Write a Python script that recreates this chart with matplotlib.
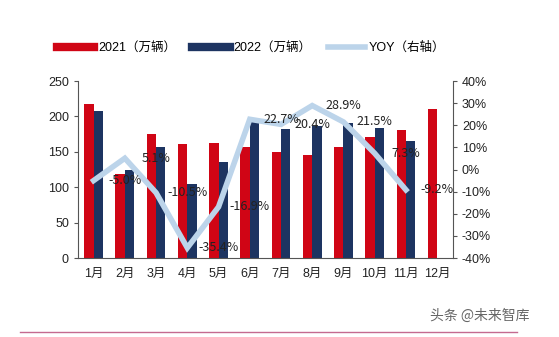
import matplotlib.pyplot as plt
import numpy as np
from matplotlib.lines import Line2D

plt.rcParams['font.family'] = ['Liberation Sans', 'Noto Sans CJK SC', 'DejaVu Sans']

months = ['1月', '2月', '3月', '4月', '5月', '6月', '7月', '8月', '9月', '10月', '11月', '12月']
sales_2021 = [218, 119, 175, 161, 162, 157, 150, 145, 157, 171, 181, 210]
sales_2022 = [207, 124, 157, 104, 135, 192, 182, 186, 191, 184, 165]
yoy = [-5.0, 5.1, -10.5, -35.4, -16.9, 22.7, 20.4, 28.9, 21.5, 7.3, -9.2]

red = '#d00515'
navy = '#1d3461'
light = '#bcd4ea'

fig = plt.figure(figsize=(5.59, 3.37), dpi=100)
ax = fig.add_axes([0.1395, 0.2344, 0.6705, 0.5252])
ax2 = ax.twinx()

x = np.arange(len(months))
w = 0.3
ax.bar(x - w / 2, sales_2021, width=w, color=red, zorder=2)
ax.bar(x[:len(sales_2022)] + w / 2, sales_2022, width=w, color=navy, zorder=2)

ax.set_ylim(0, 250)
ax.set_yticks(range(0, 251, 50))
ax.set_xlim(-0.5, 11.5)
ax.set_xticks(x)
ax.set_xticklabels(months)

# line at each month, label drawn one month to the right like the source
ax2.plot(x[:len(yoy)], yoy, color=light, lw=4, zorder=3, solid_joinstyle='miter')
ax2.set_ylim(-40, 40)
ax2.set_yticks(range(-40, 41, 10))
ax2.set_yticklabels([f'{v}%' for v in range(-40, 41, 10)])
for i, v in enumerate(yoy):
    ax2.text(i + 1, v, f'{v:.1f}%', ha='center', va='center', fontsize=9, color='#222222',
             family=['Noto Sans CJK SC', 'DejaVu Sans'], zorder=4)

for a in (ax, ax2):
    a.spines['top'].set_visible(False)
    for s in ('left', 'right', 'bottom'):
        a.spines[s].set_color('#555555')
    a.tick_params(labelsize=9, length=3, color='#555555', colors='#222222')
ax.tick_params(axis='x', length=0, pad=7)
ax.spines['right'].set_visible(False)
ax2.spines['left'].set_visible(False)
ax2.spines['bottom'].set_visible(False)

handles = [Line2D([0], [0], color=red, lw=6), Line2D([0], [0], color=navy, lw=6),
           Line2D([0], [0], color=light, lw=4)]
labels = ['2021（万辆）', '2022（万辆）', 'YOY（右轴）']
fig.legend(handles, labels, loc='center', bbox_to_anchor=(0.449, 0.858), ncol=3,
           frameon=False, fontsize=9, handlelength=3.0, columnspacing=1.3, handletextpad=0.3)

fig.add_artist(Line2D([0.036, 0.925], [0.015, 0.015], color='#c46a90', lw=1))
fig.text(0.77, 0.05, '头条 @未来智库', fontsize=10, color='#666666',
         family=['Noto Sans CJK SC', 'DejaVu Sans'])

fig.savefig('out.png', dpi=100)
